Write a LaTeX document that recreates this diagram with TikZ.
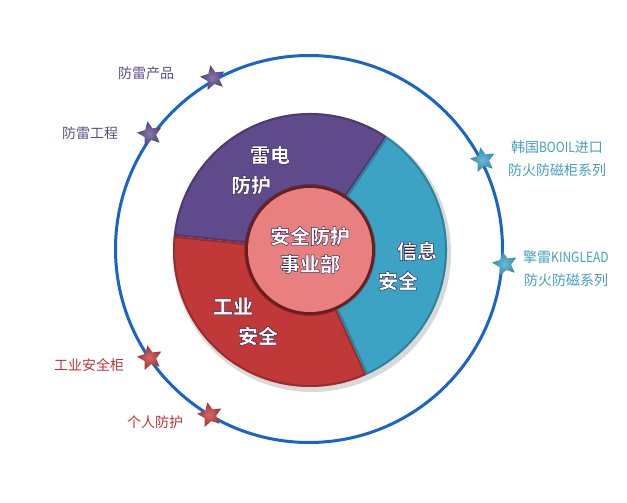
\documentclass[tikz,border=0pt]{standalone}
\usepackage{fontspec}
\setmainfont{Noto Sans CJK SC}
\usetikzlibrary{shapes.geometric,calc}
\definecolor{segP}{RGB}{95,74,140}
\definecolor{segB}{RGB}{60,163,197}
\definecolor{segR}{RGB}{192,56,56}
\definecolor{hubC}{RGB}{232,128,128}
\definecolor{ringC}{RGB}{25,100,200}
\definecolor{txtP}{RGB}{95,78,135}
\definecolor{txtB}{RGB}{70,160,192}
\definecolor{txtR}{RGB}{190,55,55}
\newcommand\otext[1]{\special{pdf:literal direct 2 Tr 0.45 w 0.2 0.13 0.3 RG}#1\special{pdf:literal direct 0 Tr}}
\newcommand\narrow[1]{\scalebox{0.86}[1]{#1}}
\newcommand\segpath[2]{($(D)+(#1:137)$) arc[start angle=#1,end angle=#2,radius=137] -- ($(D)+(#2:64)$) arc[start angle=#2,end angle=#1,radius=64] -- cycle}
\newcommand\ringseg[3]{%
  \fill[#1] \segpath{#2}{#3};
  \begin{scope}\clip \segpath{#2}{#3};
    \draw[#1!55!black, line width=4pt, opacity=0.45] \segpath{#2}{#3};
  \end{scope}}
\tikzset{
  seglbl/.style={font=\fontsize{20}{24}\selectfont\bfseries, text=white, inner sep=0pt},
  outlbl/.style={font=\fontsize{14}{23}\selectfont, align=center, inner sep=0pt},
  starnode/.style={star, star points=5, star point ratio=2.1, minimum size=26pt, inner sep=0pt, rotate=12, shading=radial},
  starP/.style={starnode, inner color=segP!75!white, outer color=segP!85!black},
  starB/.style={starnode, inner color=segB!75!white, outer color=segB!85!black},
  starR/.style={starnode, inner color=segR!75!white, outer color=segR!85!black},
}
\begin{document}
\begin{tikzpicture}[x=1pt,y=1pt]
\useasboundingbox (0,0) rectangle (627,-503);
\fill[white] (0,0) rectangle (627,-503);
\coordinate (C) at (309,-249);
\coordinate (D) at (310,-250);
% outer ring
\draw[ringC, line width=3pt] (C) circle[radius=193.5];
% donut shadow
\fill[black, opacity=0.15] ($(D)+(2,-3)$) circle[radius=139];
% segments
\ringseg{segP}{56}{174}
\ringseg{segR}{174}{294.3}
\ringseg{segB}{294.3}{416}
% hub
\fill[segR!55!black] (D) circle[radius=65];
\node[circle, fill=hubC, minimum size=124pt, inner sep=0pt, align=center, font=\fontsize{20}{28}\selectfont\bfseries, text=white] (hub) at (D) {\otext{安全防护}\\\otext{事业部}};
% segment labels
\node[seglbl] (p1) at (270,-155) {\otext{雷电}};
\node[seglbl] (p2) at (251,-185) {\otext{防护}};
\node[seglbl] (b1) at (417,-251) {\otext{信息}};
\node[seglbl] (b2) at (398,-281) {\otext{安全}};
\node[seglbl] (r1) at (233,-306) {\otext{工业}};
\node[seglbl] (r2) at (258,-336) {\otext{安全}};
% stars
\node[starP] (s1) at (213,-78) {};
\node[starP] (s2) at (150,-134) {};
\node[starB] (s3) at (483,-160) {};
\node[starB] (s4) at (505,-264) {};
\node[starR] (s5) at (150,-358) {};
\node[starR] (s6) at (210,-415) {};
% outer labels
\node[outlbl, text=txtP] (t1) at (146,-73) {防雷产品};
\node[outlbl, text=txtP] (t2) at (90,-133) {防雷工程};
\node[outlbl, text=txtB] (t3) at (557,-158.5) {韩国\narrow{BOOIL}进口\\防火防磁柜系列};
\node[outlbl, text=txtB] (t4) at (566,-269) {擎雷\narrow{KINGLEAD}\\防火防磁系列};
\node[outlbl, text=txtR] (t5) at (89,-365) {工业安全柜};
\node[outlbl, text=txtR] (t6) at (155,-422) {个人防护};
\end{tikzpicture}
\end{document}
